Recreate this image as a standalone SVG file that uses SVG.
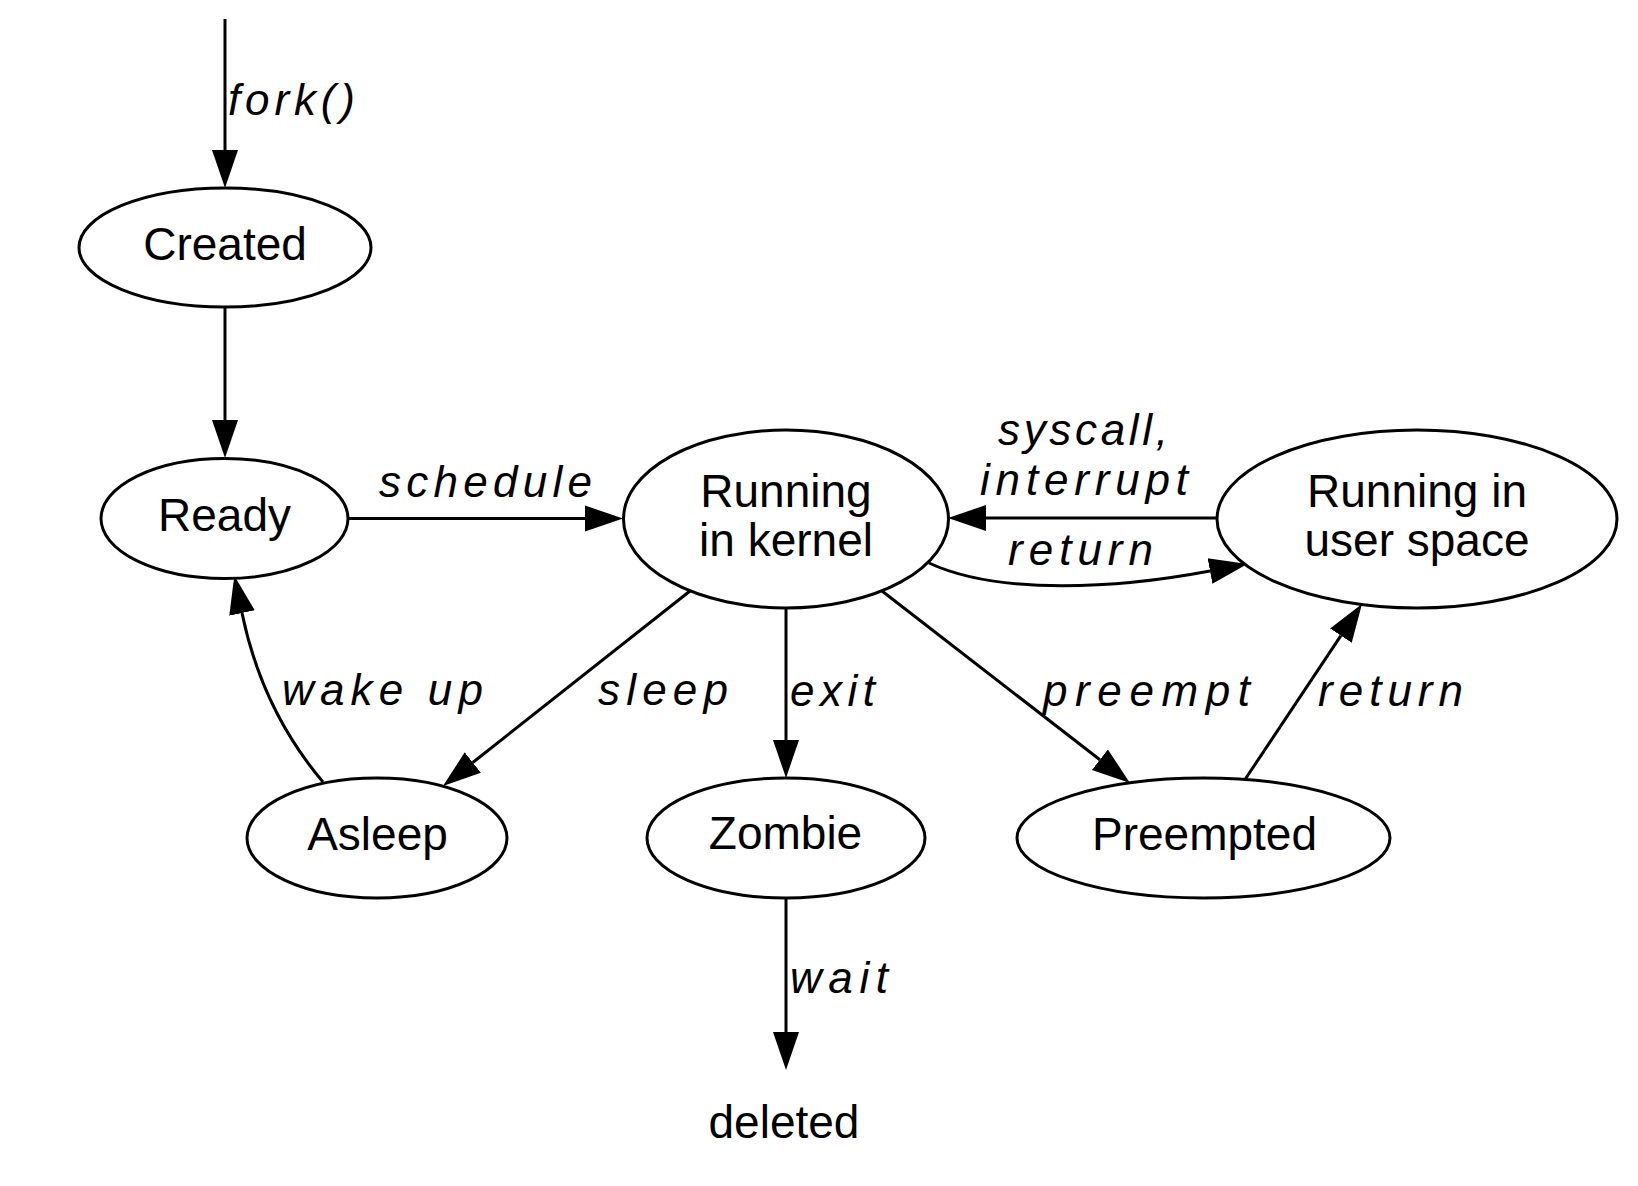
<svg xmlns="http://www.w3.org/2000/svg" width="1638" height="1186" viewBox="0 0 1638 1186">
  <style>
    .state { fill: #ffffff; stroke: #000000; stroke-width: 3; }
    .name { font-family: "Liberation Sans", Arial, Helvetica, sans-serif; font-size: 46px; fill: #000000; text-anchor: middle; }
    .edge { fill: none; stroke: #000000; stroke-width: 3; marker-end: url(#head); }
    .label { font-family: "Liberation Sans", Arial, Helvetica, sans-serif; font-size: 44px; font-style: italic; fill: #000000; }
  </style>
  <defs>
    <!-- arrowhead: base sits on the path end, tip extends 38px forward -->
    <marker id="head" markerUnits="userSpaceOnUse" viewBox="0 -15 40 30" refX="0" refY="0" markerWidth="40" markerHeight="30" orient="auto">
      <path d="M0,-13 L38,0 L0,13 Z" fill="#000000"/>
    </marker>
  </defs>
  <rect width="1638" height="1186" fill="#ffffff"/>

  <!-- transitions -->
  <g id="connectors">
    <path class="edge" d="M225,19 L225,150"/>
    <path class="edge" d="M225,307 L225,420"/>
    <path class="edge" d="M348,518.5 L585,518.5"/>
    <path class="edge" d="M1217,518 L986,518"/>
    <path class="edge" d="M929,563 C1000,596 1120,588 1210,571"/>
    <path class="edge" d="M690,591 L472.8,762.5"/>
    <path class="edge" d="M786,608 L786,740"/>
    <path class="edge" d="M882,591 L1099.9,759.7"/>
    <path class="edge" d="M1245,779.5 L1340.9,635.6"/>
    <path class="edge" d="M323,782 Q262,710 242,613"/>
    <path class="edge" d="M786,898 L786,1032"/>

    <text class="label" x="228" y="115" textLength="127" lengthAdjust="spacing">fork()</text>
    <text class="label" x="379" y="497" textLength="213" lengthAdjust="spacing">schedule</text>
    <text class="label" x="998" y="445" textLength="170" lengthAdjust="spacing">syscall,</text>
    <text class="label" x="980" y="495" textLength="208" lengthAdjust="spacing">interrupt</text>
    <text class="label" x="1008" y="565" textLength="145" lengthAdjust="spacing">return</text>
    <text class="label" x="282" y="705" textLength="201" lengthAdjust="spacing">wake up</text>
    <text class="label" x="598" y="705" textLength="130" lengthAdjust="spacing">sleep</text>
    <text class="label" x="790" y="706" textLength="85" lengthAdjust="spacing">exit</text>
    <text class="label" x="1043" y="706" textLength="207" lengthAdjust="spacing">preempt</text>
    <text class="label" x="1318" y="706" textLength="145" lengthAdjust="spacing">return</text>
    <text class="label" x="790" y="993" textLength="98" lengthAdjust="spacing">wait</text>
  </g>

  <!-- states -->
  <g id="created">
    <ellipse class="state" cx="225" cy="247.5" rx="146" ry="59.5"/>
    <text class="name" x="225" y="260">Created</text>
  </g>
  <g id="ready">
    <ellipse class="state" cx="224.5" cy="518.5" rx="123.5" ry="60"/>
    <text class="name" x="224.5" y="531">Ready</text>
  </g>
  <g id="running-kernel">
    <ellipse class="state" cx="786" cy="519" rx="162.5" ry="89"/>
    <text class="name" x="786" y="507">Running</text>
    <text class="name" x="786" y="556">in kernel</text>
  </g>
  <g id="running-user">
    <ellipse class="state" cx="1417" cy="519" rx="200" ry="89"/>
    <text class="name" x="1417" y="507">Running in</text>
    <text class="name" x="1417" y="556">user space</text>
  </g>
  <g id="asleep">
    <ellipse class="state" cx="377" cy="838" rx="130" ry="60"/>
    <text class="name" x="377.5" y="850">Asleep</text>
  </g>
  <g id="zombie">
    <ellipse class="state" cx="786" cy="838" rx="139" ry="60"/>
    <text class="name" x="785.5" y="849">Zombie</text>
  </g>
  <g id="preempted">
    <ellipse class="state" cx="1203.5" cy="838" rx="186.5" ry="60"/>
    <text class="name" x="1204.5" y="850">Preempted</text>
  </g>
  <g id="deleted">
    <text class="name" x="784" y="1138">deleted</text>
  </g>
</svg>
